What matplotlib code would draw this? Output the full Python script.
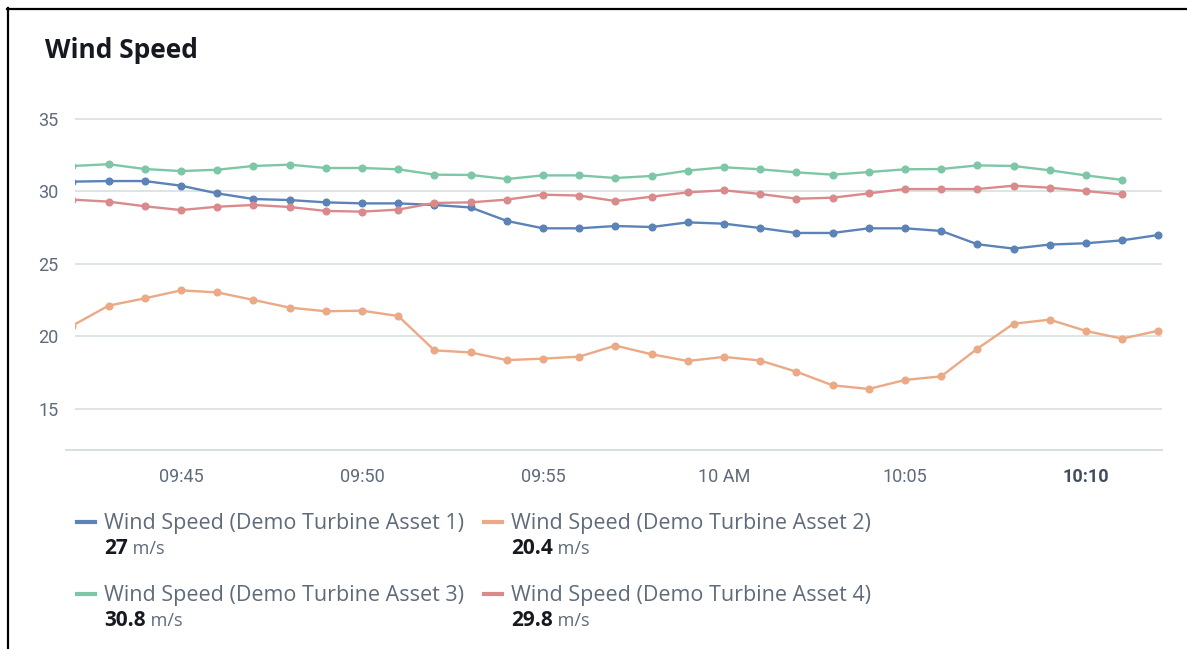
import matplotlib.pyplot as plt
from matplotlib.lines import Line2D

W, H = 1187, 649

# minutes after 09:00, one sample per minute
minutes = list(range(42, 73))

asset1 = [30.68, 30.72, 30.72, 30.40, 29.87, 29.48, 29.41, 29.25, 29.18, 29.18,
          29.07, 28.90, 27.97, 27.46, 27.46, 27.62, 27.55, 27.87, 27.78, 27.48,
          27.14, 27.14, 27.46, 27.46, 27.28, 26.36, 26.06, 26.34, 26.43, 26.63,
          27.0]
asset2 = [20.75, 22.13, 22.63, 23.18, 23.04, 22.52, 21.99, 21.74, 21.78, 21.41,
          19.04, 18.90, 18.37, 18.47, 18.61, 19.37, 18.77, 18.31, 18.59, 18.34,
          17.57, 16.63, 16.38, 17.00, 17.25, 19.16, 20.88, 21.16, 20.38, 19.85,
          20.4]
asset3 = [31.76, 31.88, 31.55, 31.41, 31.50, 31.76, 31.85, 31.62, 31.62, 31.53,
          31.16, 31.14, 30.86, 31.11, 31.11, 30.93, 31.07, 31.44, 31.67, 31.53,
          31.32, 31.16, 31.34, 31.53, 31.55, 31.80, 31.76, 31.46, 31.11, 30.8]
asset4 = [29.44, 29.30, 28.98, 28.72, 28.95, 29.07, 28.93, 28.66, 28.61, 28.75,
          29.21, 29.25, 29.44, 29.78, 29.72, 29.34, 29.64, 29.94, 30.08, 29.83,
          29.50, 29.57, 29.87, 30.17, 30.17, 30.17, 30.40, 30.26, 30.03, 29.8]

names = ["Wind Speed (Demo Turbine Asset 1)", "Wind Speed (Demo Turbine Asset 2)",
         "Wind Speed (Demo Turbine Asset 3)", "Wind Speed (Demo Turbine Asset 4)"]
series = [asset1, asset2, asset3, asset4]
colors = ["#5b83b8", "#eba985", "#7dc7a7", "#da8a8b"]
unit = "m/s"

tick_pos = [45, 50, 55, 60, 65, 70]
tick_labels = ["09:45", "09:50", "09:55", "10 AM", "10:05", "10:10"]
y_ticks = [15, 20, 25, 30, 35]

grey = "#5f6b7a"
dark = "#16191f"

fig = plt.figure(figsize=(W / 100, H / 100), dpi=100)
ax = fig.add_axes([75 / W, 1 - 450 / H, 1087 / W, 345.5 / H])

for vals, c in zip(series, colors):
    ax.plot(minutes[:len(vals)], vals, color=c, lw=1.7, marker="o", ms=4.8,
            solid_joinstyle="round", zorder=3)

ax.set_xlim(42.07, 72.1)
ax.set_ylim(12.17, 36)
ax.set_xticks(tick_pos)
ax.set_xticklabels(tick_labels)
ax.set_yticks(y_ticks)
ax.grid(axis="y", color="#d5dbdb", lw=1.1)
ax.set_axisbelow(True)
for s in ax.spines.values():
    s.set_visible(False)
# bottom axis line reaches a bit further left than the grid
ax.plot([-0.008, 1], [0, 0], transform=ax.transAxes, color="#d5dbdb", lw=1.3,
        clip_on=False)
ax.tick_params(length=0, colors=grey, labelsize=13)
ax.tick_params(axis="x", pad=13)
ax.tick_params(axis="y", pad=12)
for lab in ax.get_xticklabels() + ax.get_yticklabels():
    lab.set_family("Roboto")
last = ax.get_xticklabels()[-1]
last.set_fontweight("bold")
last.set_color("#414d5c")

fig.text(45 / W, 1 - 50 / H, "Wind Speed", fontsize=19, fontweight="bold",
         color=dark, family="Open Sans", va="center")

# legend: swatch, series name, latest value with unit
cols = [77, 484]
rows = [522, 594]
for i, (name, vals, c) in enumerate(zip(names, series, colors)):
    x0 = cols[i % 2]
    y0 = rows[i // 2]
    fig.add_artist(Line2D([x0 / W, (x0 + 18) / W], [1 - y0 / H, 1 - y0 / H],
                          color=c, lw=3, transform=fig.transFigure))
    fig.text((x0 + 27) / W, 1 - (y0 + 2) / H, name, fontsize=15.5, color=grey,
             family="Open Sans", va="center")
    v = fig.text((x0 + 27) / W, 1 - (y0 + 26) / H, f"{vals[-1]:g}", fontsize=15,
                 fontweight="bold", color=dark, family="Open Sans", va="center")
    ax.annotate(" " + unit, xy=(1, 0), xycoords=v, xytext=(0, 0.5),
                textcoords="offset points", fontsize=13, color=grey,
                family="Open Sans", va="bottom", annotation_clip=False)

# frame edges on the top and left
fig.add_artist(Line2D([7 / W, 1], [1 - 8.5 / H, 1 - 8.5 / H], color="black",
                      lw=1.6, transform=fig.transFigure))
fig.add_artist(Line2D([7.5 / W, 7.5 / W], [0, 1 - 8 / H], color="black",
                      lw=1.6, transform=fig.transFigure))

fig.savefig("out.png", dpi=100)
